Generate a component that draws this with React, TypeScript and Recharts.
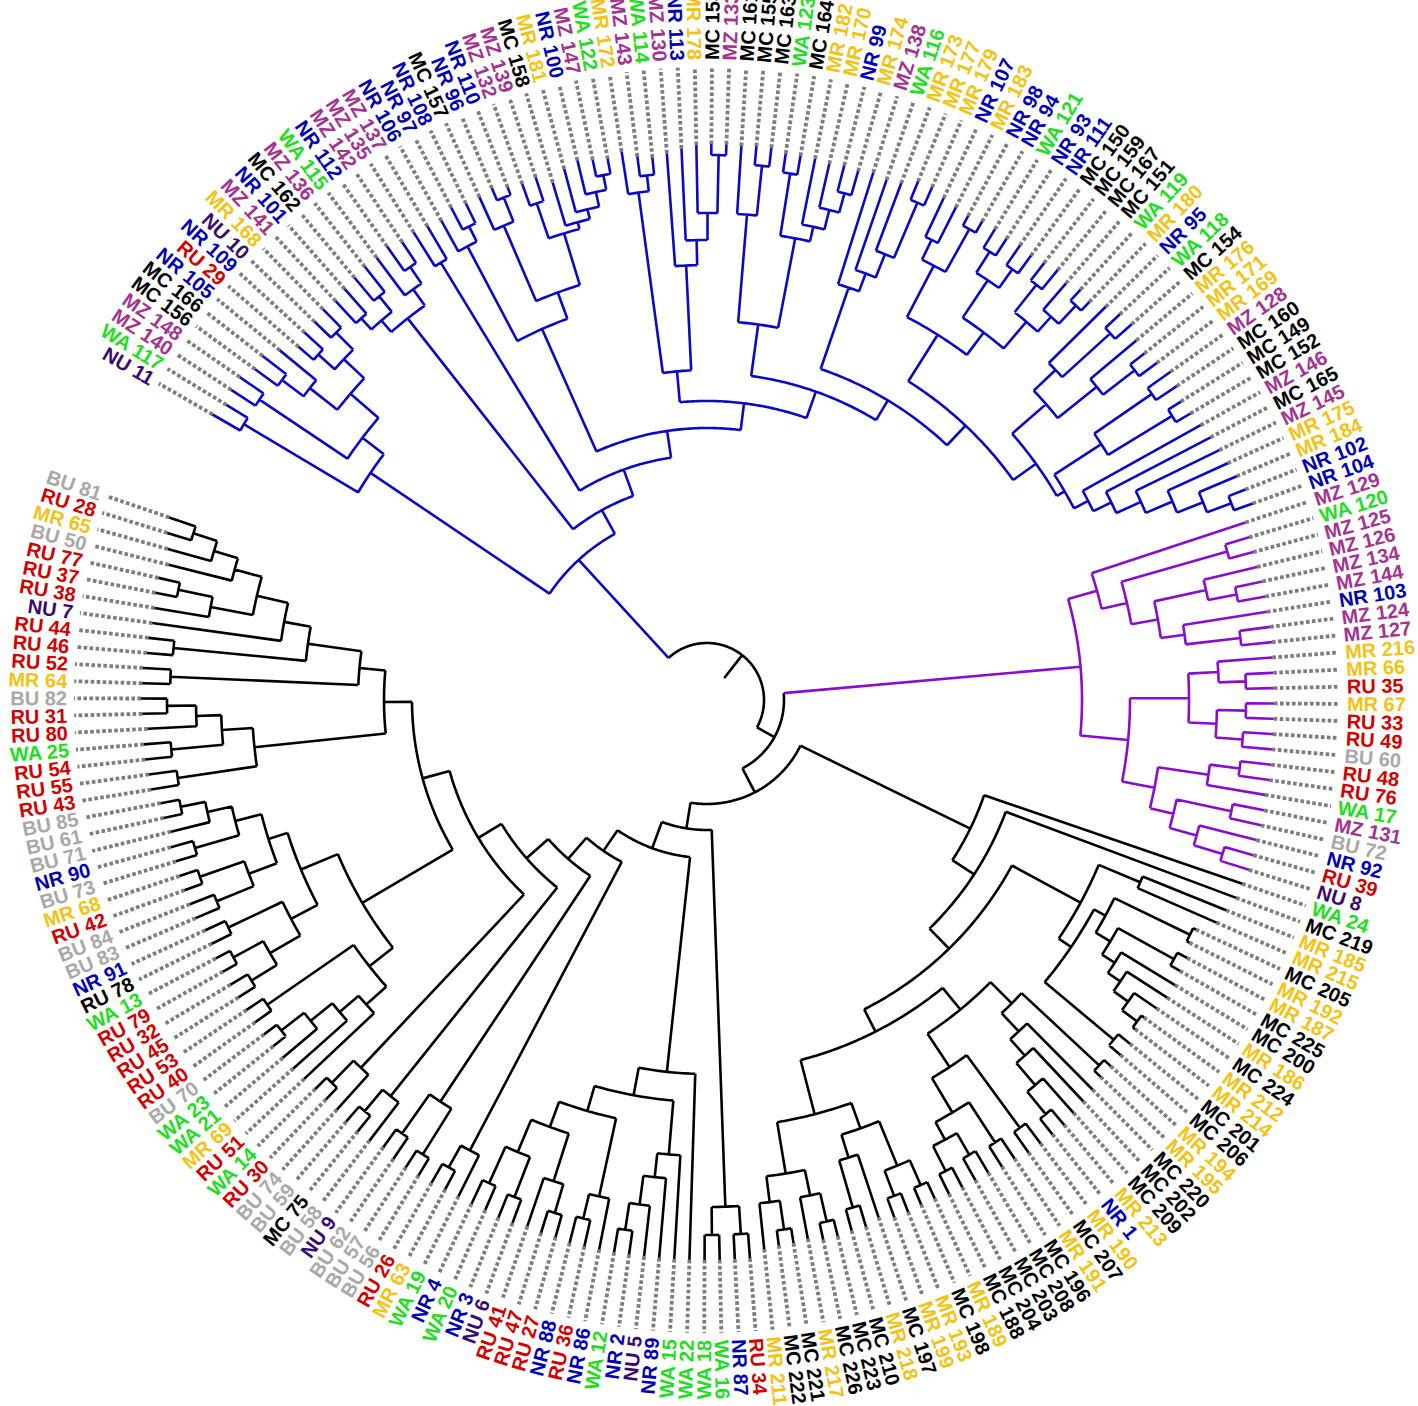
import React from 'react';
import { ComposedChart, Line, Scatter, XAxis, YAxis } from 'recharts';

// leaf labels, clockwise from the upper-left gap
const LEAF_LABELS = [
  'NU 11', 'WA 117', 'MZ 140', 'MZ 148', 'MC 156', 'MC 166', 'NR 105', 'RU 29', 'NR 109', 'NU 10',
  'MR 168', 'MZ 141', 'NR 101', 'MC 162', 'MZ 136', 'WA 115', 'NR 112', 'MZ 142', 'MZ 135', 'MZ 137',
  'NR 106', 'NR 97', 'NR 108', 'MC 157', 'NR 96', 'NR 110', 'MZ 132', 'MZ 139', 'MC 158', 'MR 181',
  'NR 100', 'MZ 147', 'WA 122', 'MR 172', 'MZ 143', 'WA 114', 'MZ 130', 'NR 113', 'MR 178', 'MC 153',
  'MZ 133', 'MC 161', 'MC 155', 'MC 163', 'WA 123', 'MC 164', 'MR 182', 'MR 170', 'NR 99', 'MR 174',
  'MZ 138', 'WA 116', 'MR 173', 'MR 177', 'MR 179', 'NR 107', 'MR 183', 'NR 98', 'NR 94', 'WA 121',
  'NR 93', 'NR 111', 'MC 150', 'MC 159', 'MC 167', 'MC 151', 'WA 119', 'MR 180', 'NR 95', 'WA 118',
  'MC 154', 'MR 176', 'MR 171', 'MR 169', 'MZ 128', 'MC 160', 'MC 149', 'MC 152', 'MZ 146', 'MC 165',
  'MZ 145', 'MR 175', 'MR 184', 'NR 102', 'NR 104',
  'MZ 129', 'WA 120', 'MZ 125', 'MZ 126', 'MZ 134', 'MZ 144', 'NR 103', 'MZ 124', 'MZ 127', 'MR 216',
  'MR 66', 'RU 35', 'MR 67', 'RU 33', 'RU 49', 'BU 60', 'RU 48', 'RU 76', 'WA 17', 'MZ 131',
  'BU 72', 'NR 92', 'RU 39', 'NU 8',
  'WA 24', 'MC 219', 'MR 185', 'MR 215', 'MC 205', 'MR 192', 'MR 187', 'MC 225', 'MC 200', 'MR 186',
  'MC 224', 'MR 212', 'MR 214', 'MC 201', 'MC 206', 'MR 194', 'MR 195', 'MC 220', 'MC 202', 'MC 209',
  'MR 213', 'NR 1', 'MR 190', 'MC 207', 'MR 191', 'MC 196', 'MC 208', 'MC 203', 'MC 204', 'MC 188',
  'MR 189', 'MC 198', 'MR 193', 'MR 199', 'MC 197', 'MR 218', 'MC 210', 'MC 223', 'MC 226', 'MR 217',
  'MC 221', 'MC 222', 'MR 211', 'RU 34', 'NR 87', 'WA 16', 'WA 18', 'WA 22', 'WA 15', 'NR 89',
  'NU 5', 'NR 2', 'WA 12', 'NR 86', 'RU 36', 'NR 88', 'RU 27', 'RU 47', 'RU 41', 'NU 6',
  'NR 3', 'WA 20', 'NR 4', 'WA 19', 'MR 63', 'RU 26', 'BU 56', 'BU 57', 'BU 62', 'NU 9',
  'BU 58', 'MC 75', 'BU 59', 'BU 74', 'RU 30', 'WA 14', 'RU 51', 'MR 69', 'WA 21', 'WA 23',
  'BU 70', 'RU 40', 'RU 53', 'RU 45', 'RU 32', 'RU 79', 'WA 13', 'RU 78', 'NR 91', 'BU 83',
  'BU 84', 'RU 42', 'MR 68', 'BU 73', 'NR 90', 'BU 71', 'BU 61', 'BU 85', 'RU 43', 'RU 55',
  'RU 54', 'WA 25', 'RU 80', 'RU 31', 'BU 82', 'MR 64', 'RU 52', 'RU 46', 'RU 44', 'NU 7',
  'RU 38', 'RU 37', 'RU 77', 'BU 50', 'MR 65', 'RU 28', 'BU 81',
];

const GROUP_COLORS: Record<string, string> = {
  NU: '#3a0a70', WA: '#22dd22', MZ: '#a3338f', MC: '#000000',
  NR: '#0000b8', RU: '#d40000', MR: '#f2c214', BU: '#a8a8a8',
};
const LABEL_COLOR_OVERRIDES: Record<string, string> = { 'RU 78': '#000000' };

const CLADE_COLORS = { blue: '#0a0ac4', purple: '#8a0ccc', black: '#000000' };

// tree pieces: "(child,child)radius", leaves "index:radius"
const BLUE_A = '((1:571,2:564)539,((3:568,4:568)539,(((5:560,6:562)532,7:552)505,((8:540,9:545)520,(10:545,11:548)522)498)470)433)406';
const BLUE_B1 = '(((12:545,13:548)515,(14:550,15:552)520)500,(16:552,(17:555,18:550)525)505)485';
const BLUE_B2A = '(19:552,20:550)512';
const BLUE_C = '((21:548,(22:555,23:552)530)513,((24:552,(25:555,26:550)542)516,((27:548,28:550)525,(29:540,(30:550,(31:555,(32:552,33:550)535)520)505)495)488)434)406';
const BLUE_D1 = '((34:555,(35:548,36:545)528)512,(37:548,(38:552,(39:555,(40:556,41:556)545)487)460)435)330';
const BLUE_E = '((42:555,(43:556,44:556)537)487,((45:552,46:552)533,(47:552,(48:550,(49:552,50:550)525)505)485)470)379';
const BLUE_I1 = '(51:553,(52:550,(53:552,(54:560,55:560)540)480)455)436';
const BLUE_H1 = '(((56:555,57:552)512,(58:550,59:552)539)490,(((60:552,61:550)530,(62:552,63:550)528)505,((64:552,65:555)530,(66:550,(67:555,68:552)540)515)495)460)432';
const BLUE_G1 = '((69:560,(70:565,71:567)545)480,(72:560,(73:558,74:562)540)500)450';
const BLUE_G2 = '(((75:568,76:565)540,(77:560,78:562)545)470,(79:565,(80:568,(81:570,(82:572,(83:575,(84:578,85:580)560)534)506)477)450)430)414';

const PURPLE_P1 = '(86:567,((87:566,88:566)541,((89:566,(90:568,91:568)540)511,(92:567,(93:568,94:568)537)482)458)431)405';
const PURPLE_P2A = '((95:567,(96:567,97:567)539)512,((98:567,99:567)539,(100:567,101:567)537)510)482';
const PURPLE_P2B = '(((102:568,103:568)537,104:566)507,((105:568,106:568)536,(107:567,(108:568,109:568)538)508)480)456';

const BLACK_K4 = '((112:560,113:556)470,(((114:540,115:540)537,((116:545,117:545)534,(118:548,(119:548,(120:545,(121:540,122:540)537)518)500)485)470)453,(123:545,124:545)530)440)425';
const BLACK_K5A = '(((125:545,126:545)536,(127:548,(128:550,(129:552,(130:555,131:555)535)506)477)455)430,((132:555,133:555)530,((134:552,135:552)528,((136:550,137:550)525,(138:550,139:550)528)500)480)440)400';
const BLACK_K5B = '((((140:548,141:548)530,(142:550,143:550)530)503,(144:545,(145:550,146:550)528)479)455,(((147:552,148:552)535,149:548)506,((150:550,151:550)535,152:552)506)480)428';
const BLACK_Q = '((153:560,154:560)535,(155:560,156:560)535)507';
const BLACK_R1B = '((((161:560,162:560)536,160:560)509,159:560)480,158:560)456';
const BLACK_R1A2 = '(163:560,(164:560,165:560)533)508';
const BLACK_R1A1 = '(((166:558,167:558)535,168:556)505,((169:558,170:558)533,(171:556,172:556)530)490)455';
const BLACK_T1 = '(173:555,(174:555,175:556)534)509';
const BLACK_T2 = '((176:556,177:556)536,(178:556,179:552)530)482';
const BLACK_T3 = '(180:555,(181:555,182:555)535)507';
const BLACK_T4 = '(183:552,(184:552,185:552)536)505';
const BLACK_W2 = '((191:555,192:555)535,(186:553,(187:554,(188:555,(189:555,190:555)539)510)482)457)430';
const BLACK_W1 = '(((((206:556,207:556)537,205:552)512,(203:555,204:556)533)487,((201:556,202:556)537,(199:556,200:556)530)490)460,((197:552,198:552)530,((195:555,196:555)539,(193:555,194:555)535)505)470)440';
const BLACK_U1 = '(((((((225:565,226:568)540,224:560)515,223:555)490,(220:560,(221:562,222:562)540)505)462,219:560)430,(217:562,218:562)536)403,(215:565,216:565)537)349';
const BLACK_U2 = '((((213:565,214:566)540,212:560)511,(210:565,211:565)538)486,(208:563,209:563)535)455';

const BLUE_TREE = `(${BLUE_A},(${BLUE_B1},(${BLUE_B2A},(${BLUE_C},(${BLUE_D1},(${BLUE_E},(${BLUE_I1},(${BLUE_H1},(${BLUE_G1},${BLUE_G2})405)377)350)327)299)272)245)217)190`;
const PURPLE_TREE = `(${PURPLE_P1},(${PURPLE_P2A},${PURPLE_P2B})423)375`;
const BLACK_N5 = `(${BLACK_T1},(${BLACK_T2},(${BLACK_T3},(${BLACK_T4},((${BLACK_U1},${BLACK_U2})323,(${BLACK_W2},${BLACK_W1})400)295)267)240)211)183`;
const BLACK_R = `(((${BLACK_R1A1},${BLACK_R1A2})428,${BLACK_R1B})402,157:560)374`;
const BLACK_TREE = `((110:566,(111:565,(${BLACK_K4},(${BLACK_K5A},${BLACK_K5B})372)347)319)293,((${BLACK_N5},${BLACK_R})158,${BLACK_Q})130)104`;

const ROOT_EDGE_START = 28;
const ROOT_RADIUS = 57;
const INNER_RADIUS = 77;
const GUIDE_END = 633;
const LABEL_RADIUS = 640;
const START_ANGLE = 210;
const ANGLE_STEP = 1.55;

type TreeNode = { r: number; leaf?: number; children: TreeNode[]; color: string; angle: number };
type Pt = { x: number | null; y: number | null };

const parseTree = (src: string, color: string): TreeNode => {
  const s = src.replace(/\s+/g, '');
  let pos = 0;
  const readNum = () => {
    const m = /^\d+(\.\d+)?/.exec(s.slice(pos));
    if (!m) throw new Error('tree parse error at ' + pos);
    pos += m[0].length;
    return Number(m[0]);
  };
  const readNode = (): TreeNode => {
    if (s[pos] === '(') {
      pos++;
      const children = [readNode()];
      while (s[pos] === ',') {
        pos++;
        children.push(readNode());
      }
      pos++;
      return { r: readNum(), children, color, angle: 0 };
    }
    const leaf = readNum();
    pos++;
    return { r: readNum(), leaf, children: [], color, angle: 0 };
  };
  return readNode();
};

const leafAngle = (i: number) => START_ANGLE + (i - 1) * ANGLE_STEP;

const setAngles = (n: TreeNode): number => {
  if (n.leaf !== undefined) n.angle = leafAngle(n.leaf);
  else n.angle = n.children.map(setAngles).reduce((a, b) => a + b, 0) / n.children.length;
  return n.angle;
};

const polar = (r: number, deg: number): Pt => {
  const t = (deg * Math.PI) / 180;
  return { x: r * Math.cos(t), y: -r * Math.sin(t) };
};
const BREAK: Pt = { x: null, y: null };

const buildLayout = () => {
  const blue = parseTree(BLUE_TREE, CLADE_COLORS.blue);
  const purple = parseTree(PURPLE_TREE, CLADE_COLORS.purple);
  const black = parseTree(BLACK_TREE, CLADE_COLORS.black);
  const inner: TreeNode = { r: INNER_RADIUS, children: [purple, black], color: CLADE_COLORS.black, angle: 0 };
  const root: TreeNode = { r: ROOT_RADIUS, children: [blue, inner], color: CLADE_COLORS.black, angle: 0 };
  setAngles(root);

  const branches: Record<string, Pt[]> = {};
  const guides: Pt[] = [];
  const push = (color: string, pts: Pt[]) => {
    (branches[color] = branches[color] || []).push(...pts, BREAK);
  };
  const walk = (n: TreeNode, parentR: number) => {
    push(n.color, [polar(parentR, n.angle), polar(n.r, n.angle)]);
    if (n.children.length) {
      const as = n.children.map((c) => c.angle);
      const lo = Math.min(...as);
      const hi = Math.max(...as);
      const steps = Math.max(2, Math.ceil((hi - lo) / 0.5));
      const arc: Pt[] = [];
      for (let k = 0; k <= steps; k++) arc.push(polar(n.r, lo + ((hi - lo) * k) / steps));
      push(n.color, arc);
      n.children.forEach((c) => walk(c, n.r));
    } else {
      guides.push(polar(n.r, n.angle), polar(GUIDE_END, n.angle), BREAK);
    }
  };
  walk(root, ROOT_EDGE_START);

  const labels = LEAF_LABELS.map((label, i) => {
    const angle = leafAngle(i + 1);
    const p = polar(LABEL_RADIUS, angle);
    const color = LABEL_COLOR_OVERRIDES[label] || GROUP_COLORS[label.split(' ')[0]] || '#000';
    return { x: p.x, y: p.y, label, angle, color };
  });
  return { branches, guides, labels };
};

const { branches, guides, labels } = buildLayout();

const TipLabel = (props: any) => {
  const { cx, cy, payload } = props;
  if (cx == null || cy == null) return null;
  const a = ((payload.angle % 360) + 360) % 360;
  const flip = a > 90 && a < 270;
  const rot = flip ? a - 180 : a;
  return (
    <text
      x={cx}
      y={cy}
      transform={`rotate(${rot} ${cx} ${cy})`}
      textAnchor={flip ? 'end' : 'start'}
      dominantBaseline="central"
      fill={payload.color}
      fontSize={20}
      fontWeight="bold"
      fontFamily="'Liberation Sans', Arial, sans-serif"
    >
      {payload.label}
    </text>
  );
};

export default function App() {
  return (
    <div style={{ position: 'absolute', left: 0, top: 0, width: 1418, height: 1406, background: '#fff' }}>
      <ComposedChart width={1418} height={1406} margin={{ top: 0, right: 0, bottom: 0, left: 0 }}>
        <XAxis type="number" dataKey="x" domain={[-707, 711]} hide allowDataOverflow />
        <YAxis type="number" dataKey="y" domain={[-706, 700]} hide allowDataOverflow />
        <Line
          data={guides}
          dataKey="y"
          stroke="#7d7d7d"
          strokeWidth={3.8}
          strokeDasharray="3.6 2.4"
          dot={false}
          activeDot={false}
          connectNulls={false}
          isAnimationActive={false}
        />
        {Object.keys(branches).map((color) => (
          <Line
            key={color}
            data={branches[color]}
            dataKey="y"
            stroke={color}
            strokeWidth={2.6}
            dot={false}
            activeDot={false}
            connectNulls={false}
            isAnimationActive={false}
          />
        ))}
        <Scatter data={labels} shape={TipLabel} isAnimationActive={false} />
      </ComposedChart>
    </div>
  );
}
